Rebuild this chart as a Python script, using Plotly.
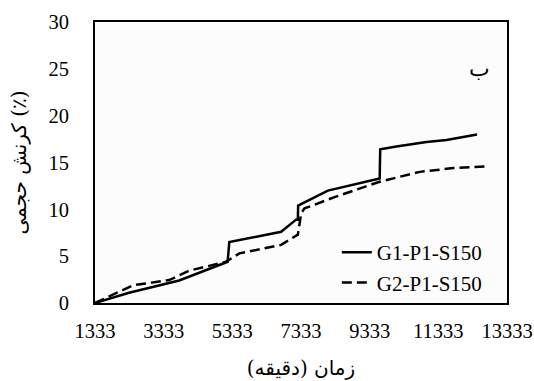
import plotly.graph_objects as go

# Data
g1_time = [1333, 2326, 3786, 5196, 5245, 6754, 7190, 7241, 7250, 8066, 8116, 9625, 9640, 10112, 10988, 11571, 12460]
g1_strain = [0.0, 1.1, 2.4, 4.4, 6.5, 7.6, 8.9, 8.9, 10.4, 11.9, 12.0, 13.3, 16.4, 16.7, 17.2, 17.4, 18.0]

g2_time = [1333, 2450, 3494, 4078, 5148, 5537, 6754, 7241, 7340, 7435, 8311, 9625, 10793, 11766, 12758]
g2_strain = [0.0, 1.9, 2.45, 3.45, 4.4, 5.3, 6.2, 7.3, 9.6, 10.1, 11.3, 12.95, 14.0, 14.4, 14.6]

x_ticks = [1333, 3333, 5333, 7333, 9333, 11333, 13333]
y_ticks = [0, 5, 10, 15, 20, 25, 30]

fig = go.Figure()
fig.add_trace(go.Scatter(x=g1_time, y=g1_strain, mode="lines", name="G1-P1-S150",
                         line=dict(color="black", width=2.5)))
fig.add_trace(go.Scatter(x=g2_time, y=g2_strain, mode="lines", name="G2-P1-S150",
                         line=dict(color="black", width=2.5, dash="10px,5px")))

tick_font = dict(family="Liberation Serif, Times New Roman, serif", size=20.5, color="black")
title_font = dict(family="DejaVu Serif, DejaVu Sans, serif", size=20, color="black")

fig.update_layout(
    width=534, height=381,
    margin=dict(l=95, r=27, t=22, b=78, autoexpand=False),
    plot_bgcolor="#fcfcfc",
    showlegend=True,
    legend=dict(x=0.587, y=0.126, xanchor="left", yanchor="middle",
                font=dict(family="Liberation Serif, Times New Roman, serif", size=21, color="black"),
                bgcolor="rgba(0,0,0,0)", tracegroupgap=0, itemwidth=30),
    xaxis=dict(range=[1333, 13333], tickvals=x_ticks, ticktext=[str(v) for v in x_ticks],
               showgrid=False, zeroline=False, showline=True, linecolor="#000000", linewidth=2,
               mirror=True, ticks="outside", ticklen=8, tickcolor="rgba(0,0,0,0)",
               tickfont=tick_font, automargin=False,
               title=dict(text="زمان (دقیقه)", font=title_font, standoff=20)),
    yaxis=dict(range=[0, 30], tickvals=y_ticks, showgrid=False, zeroline=False,
               showline=True, linecolor="#000000", linewidth=2, mirror=True,
               ticks="outside", ticklen=20, tickcolor="rgba(0,0,0,0)",
               tickfont=tick_font, automargin=False,
               title=dict(text="کرنش حجمی (٪)", font=title_font, standoff=16)),
    annotations=[dict(text="ب", xref="paper", yref="paper", x=0.934, y=0.836,
                      xanchor="center", yanchor="middle",
                      showarrow=False, font=dict(family="DejaVu Serif, serif", size=22, color="black"))],
)

fig.write_html("out.html")
